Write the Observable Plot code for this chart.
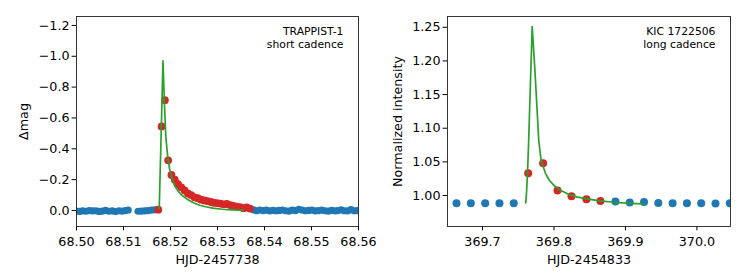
<!DOCTYPE html>
<html><head><meta charset="utf-8">
<script src="https://cdn.jsdelivr.net/npm/d3@7"></script>
<script src="https://cdn.jsdelivr.net/npm/@observablehq/plot@0.6"></script>
<style>
body{margin:0;background:#fff;}
#wrap{display:flex;width:747px;height:280px;}
</style></head><body><div id="wrap"></div>
<script>
// ---------- Left panel: TRAPPIST-1 short cadence ----------
const tBlueL = [68.4999, 68.5006, 68.5013, 68.5020, 68.5027, 68.5034, 68.5041, 68.5048, 68.5055, 68.5062, 68.5069, 68.5076, 68.5083, 68.5090, 68.5097, 68.5104, 68.5110,
  68.5131, 68.5138, 68.5145, 68.5152, 68.5159, 68.5166,
  68.5376, 68.5383, 68.5390, 68.5397, 68.5404, 68.5411, 68.5418, 68.5425, 68.5431, 68.5438, 68.5445, 68.5452, 68.5459, 68.5466, 68.5473, 68.5480, 68.5487, 68.5494, 68.5501, 68.5508, 68.5515, 68.5522, 68.5529, 68.5536, 68.5543, 68.5550, 68.5556, 68.5563, 68.5570, 68.5577, 68.5584, 68.5591, 68.5598, 68.5605];
const magBlueL = [0.004, 0.006, 0.003, 0.005, 0.001, 0.003, 0.002, 0.006, 0.004, 0.000, 0.005, 0.003, 0.007, 0.002, 0.004, 0.001, -0.003,
  0.005, 0.004, 0.003, 0.001, -0.002, -0.004,
  -0.004, 0.002, -0.003, 0.001, -0.002, 0.003, -0.001, 0.002, 0.000, -0.003, 0.002, 0.004, -0.002, 0.001, -0.008, -0.003, 0.002, 0.000, -0.003, 0.003, 0.001, -0.002, 0.002, 0.004, -0.001, 0.003, 0.001, -0.004, 0.002, 0.003, -0.006, 0.002, 0.001, 0.002];
const tRedL = [68.5174, 68.5181, 68.5188, 68.5195, 68.5202, 68.5209, 68.5216, 68.5223, 68.5230, 68.5237, 68.5244, 68.5251, 68.5258, 68.5265, 68.5272, 68.5279, 68.5286, 68.5292, 68.5299, 68.5306, 68.5313, 68.5320, 68.5327, 68.5334, 68.5341, 68.5348, 68.5355, 68.5362, 68.5369];
const magRedL = [-0.005, -0.545, -0.715, -0.325, -0.23, -0.20, -0.17, -0.15, -0.13, -0.11, -0.10, -0.085, -0.08, -0.07, -0.065, -0.06, -0.055, -0.05, -0.048, -0.045, -0.04, -0.042, -0.035, -0.03, -0.025, -0.022, -0.015, -0.02, -0.012];
const tModelL = [68.5176, 68.5180, 68.5184, 68.5187, 68.5190, 68.5194, 68.5198, 68.5203, 68.5208, 68.5215, 68.5222, 68.5230, 68.5240, 68.5250, 68.5262, 68.5275, 68.5290, 68.5310, 68.5330, 68.5355];
const magModelL = [-0.01, -0.48, -0.97, -0.70, -0.48, -0.35, -0.27, -0.21, -0.165, -0.13, -0.105, -0.085, -0.065, -0.048, -0.034, -0.024, -0.015, -0.008, -0.004, -0.002];
const xTicksL = [68.50, 68.51, 68.52, 68.53, 68.54, 68.55, 68.56];
const yTicksL = [-1.2, -1.0, -0.8, -0.6, -0.4, -0.2, 0.0];
const labelL = ["TRAPPIST-1\nshort cadence"];

// ---------- Right panel: KIC 1722506 long cadence ----------
const tBlueR = [369.6636, 369.6836, 369.7037, 369.7237, 369.7437, 369.8860, 369.9060, 369.9260, 369.9460, 369.9660, 369.9860, 370.0060, 370.0260, 370.0460];
const fluxBlueR = [0.9886, 0.9886, 0.9886, 0.9884, 0.9886, 0.9910, 0.9895, 0.9905, 0.9890, 0.9884, 0.9884, 0.9884, 0.9882, 0.9884];
const tRedR = [369.7639, 369.7848, 369.8049, 369.8245, 369.8454, 369.8650];
const fluxRedR = [1.0332, 1.0480, 1.0074, 0.9990, 0.9945, 0.9920];
const tModelR = [369.7605, 369.7615, 369.7629, 369.7643, 369.7695, 369.7731, 369.7787, 369.7820, 369.7881, 369.7940, 369.8000, 369.8090, 369.8190, 369.8320, 369.8460, 369.8640, 369.8840, 369.9050, 369.9260];
const fluxModelR = [0.989, 1.003, 1.032, 1.072, 1.251, 1.190, 1.082, 1.052, 1.033, 1.022, 1.015, 1.008, 1.0025, 0.998, 0.995, 0.992, 0.990, 0.9885, 0.9877];
const xTicksR = [369.7, 369.8, 369.9, 370.0];
const yTicksR = [1.00, 1.05, 1.10, 1.15, 1.20, 1.25];
const labelR = ["KIC 1722506\nlong cadence"];

const BLUE = "#1f77b4", RED = "#d62728", GREEN = "#2ca02c";
const FONT = "DejaVu Sans";
const FS = 12.7;

const pts = (ts, vs) => ts.map((t, i) => ({t, v: vs[i]}));

function panel({width, marginLeft, marginRight, xDomain, yDomain, xTicks, yTicks, xFmt, yFmt, xLabel, yLabel, yLabelOffset, blue, red, model, note, rBlue, rRed}) {
  return Plot.plot({
    width, height: 280, marginLeft, marginRight, marginTop: 16, marginBottom: 54,
    style: {fontFamily: FONT, fontSize: FS + "px", background: "white", color: "black", overflow: "visible"},
    x: {domain: xDomain},
    y: {domain: yDomain},
    marks: [
      Plot.axisX({ticks: xTicks, tickFormat: d3.format(xFmt), tickSize: 4.4, tickPadding: 6.4, fontSize: FS,
        label: xLabel, labelAnchor: "center", labelArrow: "none", labelOffset: 37}),
      Plot.axisY({ticks: yTicks, tickFormat: d3.format(yFmt), tickSize: 4.4, tickPadding: 2.6, fontSize: FS,
        label: yLabel, labelAnchor: "center", labelArrow: "none", labelOffset: yLabelOffset}),
      Plot.dot(blue, {x: "t", y: "v", r: rBlue, fill: BLUE, clip: true}),
      Plot.dot(red, {x: "t", y: "v", r: rRed, fill: RED, clip: true}),
      Plot.line(model, {x: "t", y: "v", stroke: GREEN, strokeWidth: 1.7, clip: true}),
      Plot.text(note, {frameAnchor: "top-right", dx: -15, dy: 10, textAnchor: "end", lineAnchor: "top", lineHeight: 1.15, fontSize: 10.8, fill: "black"}),
      Plot.frame({stroke: "#222", strokeWidth: 0.9})
    ]
  });
}

const left = panel({
  width: 380, marginLeft: 76, marginRight: 22,
  xDomain: [68.50, 68.56], yDomain: [0.104, -1.258],
  xTicks: xTicksL, yTicks: yTicksL, xFmt: ".2f", yFmt: ".1f",
  xLabel: "HJD-2457738", yLabel: "Δmag", yLabelOffset: 58,
  blue: pts(tBlueL, magBlueL), red: pts(tRedL, magRedL), model: pts(tModelL, magModelL),
  note: labelL, rBlue: 3.6, rRed: 3.9
});
const right = panel({
  width: 367, marginLeft: 67, marginRight: 17,
  xDomain: [369.651, 370.047], yDomain: [0.954, 1.266],
  xTicks: xTicksR, yTicks: yTicksR, xFmt: ".1f", yFmt: ".2f",
  xLabel: "HJD-2454833", yLabel: "Normalized intensity", yLabelOffset: 55,
  blue: pts(tBlueR, fluxBlueR), red: pts(tRedR, fluxRedR), model: pts(tModelR, fluxModelR),
  note: labelR, rBlue: 4, rRed: 4
});
document.getElementById("wrap").append(left, right);
</script></body></html>
